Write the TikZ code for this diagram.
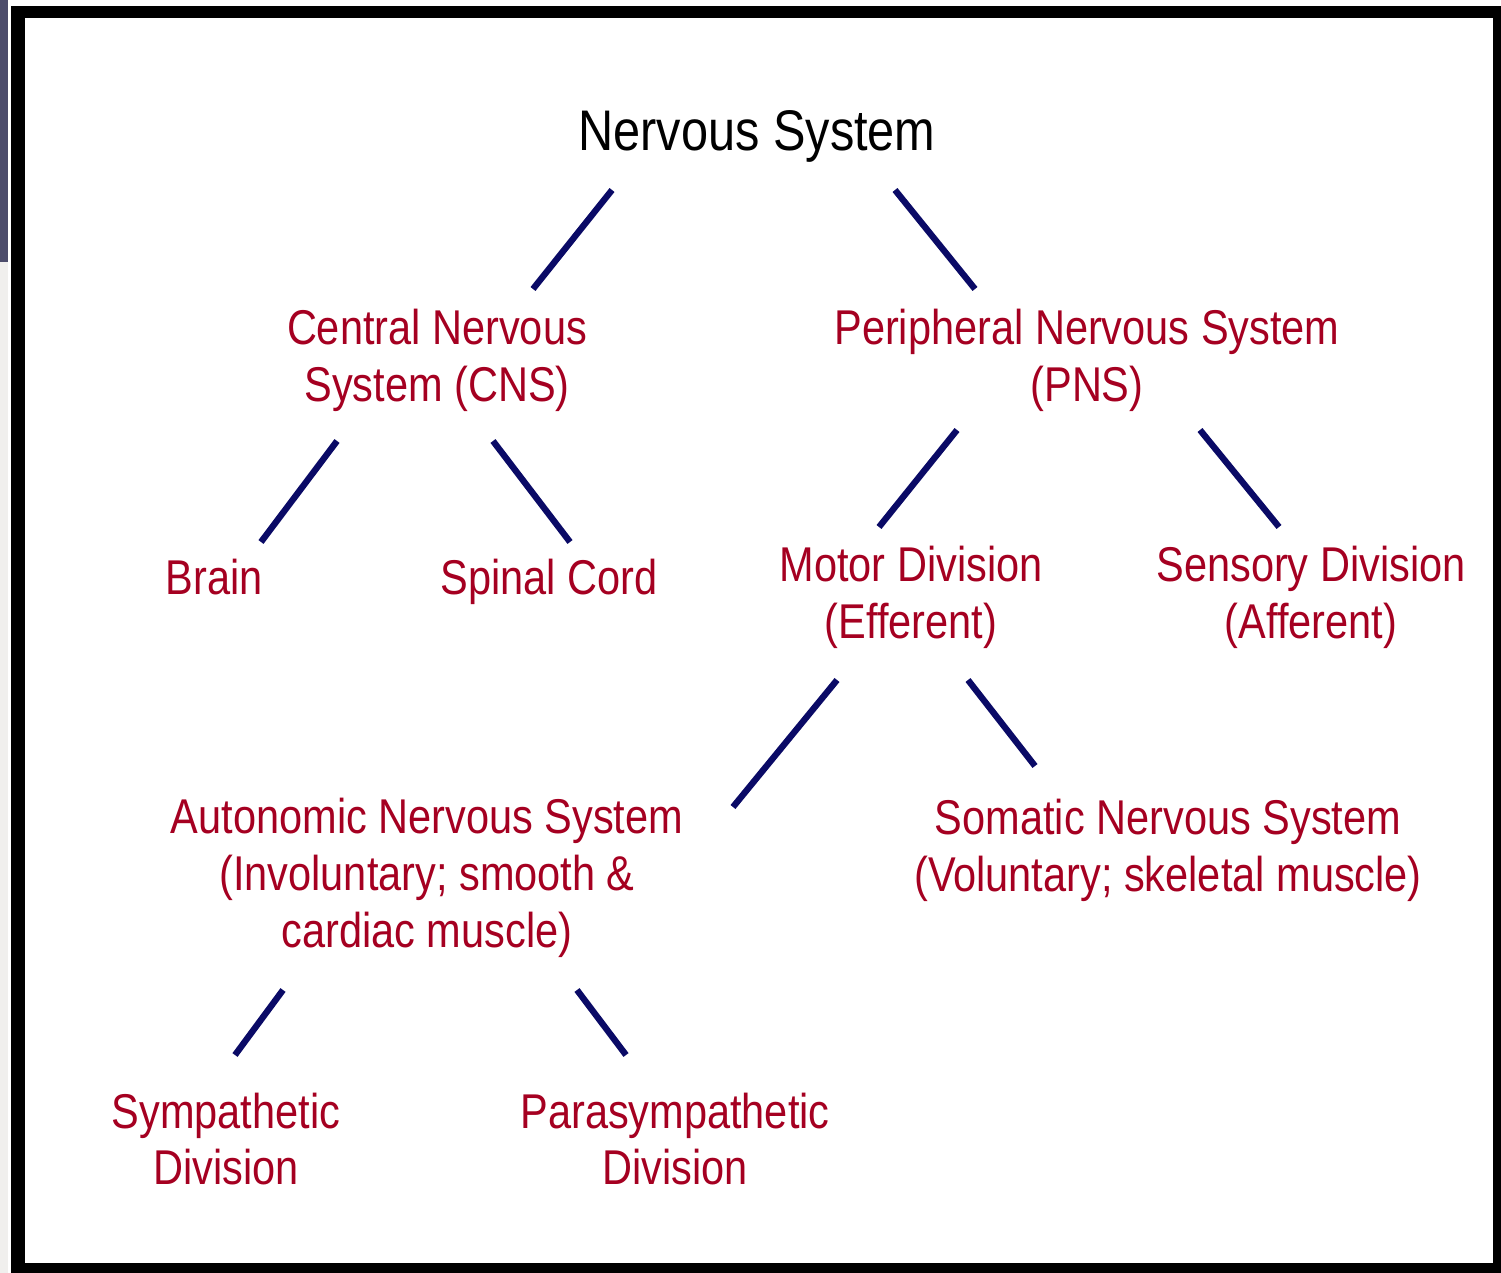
\documentclass[tikz,border=0pt]{standalone}
\usepackage{fontspec}
\setmainfont[FakeStretch=0.85]{Liberation Sans}
\definecolor{labelred}{HTML}{A50021}
\definecolor{linenavy}{HTML}{0A0A66}
\tikzset{
  branch/.style={draw=linenavy, line width=3.6pt},
  part/.style={text=labelred, align=center, inner sep=0pt, font=\fontsize{27.8}{32.4}\selectfont},
  root/.style={text=black, inner sep=0pt, font=\fontsize{32.6}{38}\selectfont}
}
\begin{document}
\begin{tikzpicture}[x=0.02cm, y=-0.02cm]
            \useasboundingbox (0,0) rectangle (1501,1273);
            % frame
            \fill[black!70!blue!40!gray] (0,0) rectangle (8,262);
            \fill[yellow!8!gray!15] (0,262) rectangle (8,1273);
            \fill[black] (11,6) rectangle (1501,1273);
            \fill[white] (25,18) rectangle (1493,1263);

            % top level
            \node[root] (title) at (757,136) {Nervous System};
            \node[part] (cns) at (437,360) {Central Nervous\\System (CNS)};
            \node[part] (pns) at (1087,360) {Peripheral Nervous System\\(PNS)};
            \coordinate (title-l) at (612,190);
            \coordinate (title-r) at (895,190);
            \coordinate (cns-t) at (533,289);
            \coordinate (pns-t) at (975,289);
            \draw[branch] (title-l) -- (cns-t);
            \draw[branch] (title-r) -- (pns-t);

            % central nervous system
            \node[part] (brain) at (214,577) {Brain};
            \node[part] (spinal) at (549,582) {Spinal Cord};
            \coordinate (cns-l) at (337,441);
            \coordinate (cns-r) at (493,441);
            \coordinate (brain-t) at (261,542);
            \coordinate (spinal-t) at (570,542);
            \draw[branch] (cns-l) -- (brain-t);
            \draw[branch] (cns-r) -- (spinal-t);

            % peripheral nervous system
            \node[part] (motor) at (911,597) {Motor Division\\(Efferent)};
            \node[part] (sensory) at (1311,597) {Sensory Division\\(Afferent)};
            \coordinate (pns-l) at (957,430);
            \coordinate (pns-r) at (1200,430);
            \coordinate (motor-t) at (879,527);
            \coordinate (sensory-t) at (1279,527);
            \draw[branch] (pns-l) -- (motor-t);
            \draw[branch] (pns-r) -- (sensory-t);

            % motor division
            \node[part] (auto) at (427,878) {Autonomic Nervous System\\(Involuntary; smooth \&\\cardiac muscle)};
            \node[part] (somatic) at (1168,850) {Somatic Nervous System\\(Voluntary; skeletal muscle)};
            \coordinate (motor-l) at (837,680);
            \coordinate (motor-r) at (968,680);
            \coordinate (auto-t) at (733,807);
            \coordinate (somatic-t) at (1035,766);
            \draw[branch] (motor-l) -- (auto-t);
            \draw[branch] (motor-r) -- (somatic-t);

            % autonomic nervous system
            \node[part] (symp) at (226,1139) {Sympathetic\\Division};
            \node[part] (para) at (675,1139) {Parasympathetic\\Division};
            \coordinate (auto-l) at (283,990);
            \coordinate (auto-r) at (577,990);
            \coordinate (symp-t) at (235,1055);
            \coordinate (para-t) at (626,1055);
            \draw[branch] (auto-l) -- (symp-t);
            \draw[branch] (auto-r) -- (para-t);
\end{tikzpicture}
\end{document}
